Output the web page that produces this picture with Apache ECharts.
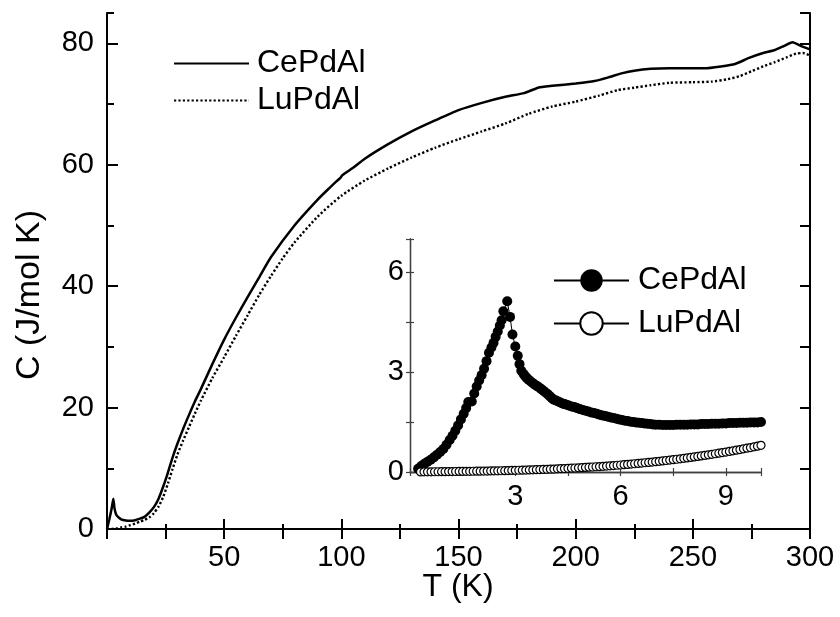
<!DOCTYPE html>
<html>
<head>
<meta charset="utf-8">
<script src="https://cdn.jsdelivr.net/npm/echarts@6/dist/echarts.min.js"></script>
<style>
  html, body { margin: 0; padding: 0; background: #fff; }
  #chart { width: 840px; height: 617px; }
</style>
</head>
<body>
<div id="chart"></div>
<script>
// Specific heat C(T) of CePdAl and its non-magnetic reference LuPdAl.

// Full temperature range, 0-300 K (J/mol K)
const mainCeT = [0, 1, 2, 2.7, 3.2, 4, 5, 6, 8, 10, 12, 14, 16, 18, 20, 22, 24, 26, 28, 30, 32.5, 35, 37.5, 40, 45, 50, 55, 60, 65, 70, 80, 90, 95, 98, 99.5, 100.5, 105, 110, 120, 130, 140, 150, 160, 170, 178, 184, 190, 200, 208, 214, 220, 225, 232, 240, 255, 262, 268, 274, 280, 285, 289, 292.5, 296, 300];
const mainCeC = [0, 1.6, 3.4, 5.0, 3.4, 2.3, 1.9, 1.6, 1.4, 1.35, 1.45, 1.7, 2.0, 2.7, 3.6, 5.0, 7.0, 9.3, 11.8, 14.0, 16.5, 18.8, 21.0, 23.0, 27.2, 31.2, 34.8, 38.2, 41.5, 44.8, 50.0, 54.3, 56.2, 57.3, 57.8, 58.3, 59.5, 61.0, 63.4, 65.5, 67.3, 69.0, 70.2, 71.2, 71.8, 72.7, 73.0, 73.4, 73.8, 74.4, 75.1, 75.5, 75.8, 75.9, 75.9, 76.2, 76.6, 77.6, 78.4, 78.9, 79.6, 80.2, 79.6, 79.0];

const mainLuT = [0, 2, 4, 6, 8, 10, 12, 14, 16, 18, 20, 22, 24, 26, 28, 30, 32.5, 35, 37.5, 40, 45, 50, 55, 60, 65, 70, 75, 80, 90, 100, 110, 120, 130, 140, 150, 160, 170, 180, 190, 200, 210, 218, 225, 232, 240, 250, 258, 265, 270, 275, 280, 285, 290, 294, 297, 300];
const mainLuC = [0, 0.02, 0.1, 0.25, 0.4, 0.65, 0.9, 1.2, 1.5, 1.9, 2.6, 3.7, 5.3, 7.5, 9.9, 12.2, 14.6, 16.8, 19.0, 21.1, 24.9, 28.3, 31.8, 35.2, 38.6, 41.7, 44.6, 47.2, 51.5, 54.9, 57.4, 59.4, 61.2, 62.8, 64.2, 65.5, 66.8, 68.4, 69.6, 70.4, 71.4, 72.3, 72.7, 73.1, 73.5, 73.6, 73.7, 74.1, 74.6, 75.4, 76.2, 76.9, 77.7, 78.3, 78.4, 78.0];

// Low temperature detail, 0-10 K (J/mol K)
const insetCeT = [0.23, 0.32, 0.41, 0.50, 0.59, 0.68, 0.77, 0.86, 0.95, 1.04, 1.13, 1.21, 1.29, 1.37, 1.45, 1.53, 1.60, 1.66, 1.76, 1.83, 1.90, 1.97, 2.04, 2.11, 2.18, 2.25, 2.32, 2.38, 2.44, 2.50, 2.56, 2.61, 2.66, 2.77, 2.85, 2.92, 3.00, 3.07, 3.12, 3.17,
  3.23, 3.28, 3.33, 3.38, 3.44, 3.50, 3.56, 3.62, 3.68, 3.74, 3.80, 3.86, 3.92, 3.98, 4.04, 4.10, 4.16, 4.22, 4.28, 4.34, 4.40, 4.46, 4.52, 4.60, 4.68, 4.76, 4.84, 4.92, 5.00, 5.08, 5.16, 5.24, 5.32, 5.40, 5.48, 5.56, 5.64, 5.72, 5.80, 5.88, 5.96, 6.04, 6.12, 6.20, 6.28, 6.36, 6.44, 6.52, 6.60, 6.68, 6.76, 6.84, 6.92, 7.00, 7.10, 7.20, 7.30, 7.40, 7.50, 7.60, 7.70, 7.80, 7.90, 8.00, 8.10, 8.20, 8.30, 8.40, 8.50, 8.60, 8.70, 8.80, 8.90, 9.00, 9.10, 9.20, 9.30, 9.40, 9.50, 9.60, 9.70, 9.80, 9.90, 10.00];
const insetCeC = [0.10, 0.18, 0.25, 0.31, 0.37, 0.44, 0.52, 0.60, 0.69, 0.82, 0.96, 1.09, 1.24, 1.40, 1.58, 1.75, 1.92, 2.10, 2.12, 2.36, 2.57, 2.75, 2.91, 3.10, 3.33, 3.58, 3.74, 3.88, 4.06, 4.22, 4.40, 4.56, 4.83, 5.13, 4.66, 4.13, 3.77, 3.49, 3.24, 3.04,
  2.95, 2.88, 2.82, 2.77, 2.72, 2.67, 2.62, 2.58, 2.54, 2.49, 2.44, 2.39, 2.34, 2.28, 2.22, 2.17, 2.15, 2.12, 2.09, 2.06, 2.04, 2.02, 2.00, 1.97, 1.95, 1.92, 1.89, 1.86, 1.84, 1.82, 1.79, 1.77, 1.75, 1.72, 1.70, 1.68, 1.66, 1.64, 1.62, 1.60, 1.58, 1.56, 1.54, 1.53, 1.51, 1.50, 1.49, 1.48, 1.47, 1.46, 1.45, 1.44, 1.43, 1.42, 1.42, 1.41, 1.41, 1.41, 1.41, 1.42, 1.42, 1.42, 1.42, 1.43, 1.43, 1.43, 1.44, 1.44, 1.44, 1.45, 1.45, 1.45, 1.46, 1.46, 1.47, 1.47, 1.47, 1.48, 1.48, 1.48, 1.49, 1.49, 1.49, 1.50];

const insetLuT = [0.3, 0.4, 0.5, 0.6, 0.7, 0.8, 0.9, 1.0, 1.1, 1.2, 1.3, 1.4, 1.5, 1.6, 1.7, 1.8, 1.9, 2.0, 2.1, 2.2, 2.3, 2.4, 2.5, 2.6, 2.7, 2.8, 2.9, 3.0, 3.1, 3.2, 3.3, 3.4, 3.5, 3.6, 3.7, 3.8, 3.9, 4.0, 4.1, 4.2, 4.3, 4.4, 4.5, 4.6, 4.7, 4.8, 4.9, 5.0, 5.1, 5.2, 5.3, 5.4, 5.5, 5.6, 5.7, 5.8, 5.9, 6.0, 6.1, 6.2, 6.3, 6.4, 6.5, 6.6, 6.7, 6.8, 6.9, 7.0, 7.1, 7.2, 7.3, 7.4, 7.5, 7.6, 7.7, 7.8, 7.9, 8.0, 8.1, 8.2, 8.3, 8.4, 8.5, 8.6, 8.7, 8.8, 8.9, 9.0, 9.1, 9.2, 9.3, 9.4, 9.5, 9.6, 9.7, 9.8, 9.9, 10.0];
const insetLuC = [0.003, 0.004, 0.005, 0.006, 0.007, 0.008, 0.010, 0.011, 0.012, 0.013, 0.015, 0.016, 0.017, 0.019, 0.020, 0.022, 0.024, 0.026, 0.028, 0.029, 0.032, 0.034, 0.036, 0.038, 0.041, 0.043, 0.046, 0.049, 0.052, 0.055, 0.058, 0.061, 0.065, 0.069, 0.072, 0.076, 0.081, 0.085, 0.089, 0.094, 0.099, 0.104, 0.109, 0.114, 0.120, 0.125, 0.131, 0.138, 0.144, 0.150, 0.157, 0.164, 0.171, 0.179, 0.187, 0.194, 0.203, 0.211, 0.220, 0.229, 0.238, 0.248, 0.257, 0.267, 0.278, 0.288, 0.299, 0.310, 0.322, 0.333, 0.345, 0.358, 0.370, 0.383, 0.397, 0.410, 0.424, 0.438, 0.453, 0.468, 0.483, 0.499, 0.515, 0.531, 0.548, 0.565, 0.583, 0.600, 0.618, 0.637, 0.656, 0.675, 0.695, 0.715, 0.735, 0.756, 0.777, 0.800];

const seriesNames = ['CePdAl', 'LuPdAl'];
const insetSuffix = ' (0-10 K)';
const xTitle = 'T (K)';
const yTitle = 'C (J/mol K)';

const FONT = 'Liberation Sans, Arial, Helvetica, sans-serif';
const INK = '#000';
const FRAME_INSET = '#404040';

function pairs(xs, ys) { return xs.map((x, i) => [x, ys[i]]); }

const labelStyle = { color: INK, fontSize: 29, fontFamily: FONT };

// Ticks point into the plot area: a negative length flips them inward.
function ticks(len, color, width) {
  return { show: true, inside: false, length: -len, lineStyle: { color: color, width: width } };
}

function frameAxis(extra) {
  return Object.assign({
    type: 'value',
    splitLine: { show: false },
    axisLabel: { show: false },
    axisLine: { show: false },
    axisTick: { show: false }
  }, extra);
}

const chart = echarts.init(document.getElementById('chart'), null, { renderer: 'canvas' });

chart.setOption({
  animation: false,
  backgroundColor: '#fff',
  grid: [
    { left: 107, top: 13, width: 703, height: 516 },
    { left: 410, top: 239, width: 351, height: 233 }
  ],
  xAxis: [
    frameAxis({
      gridIndex: 0, position: 'bottom', min: 0, max: 300, interval: 50,
      axisLine: { show: true, lineStyle: { color: INK, width: 2 } },
      axisTick: ticks(10, INK, 2),
      minorTick: { show: true, splitNumber: 2, length: -5, lineStyle: { color: INK, width: 2 } },
      axisLabel: Object.assign({ show: true, margin: 14, showMinLabel: false }, labelStyle)
    }),
    frameAxis({
      gridIndex: 0, position: 'top', min: 0, max: 300, interval: 25,
      axisLine: { show: true, lineStyle: { color: INK, width: 2 } },
      axisTick: ticks(10, INK, 2)
    }),
    frameAxis({
      gridIndex: 1, position: 'bottom', min: 0, max: 10, interval: 3,
      axisLine: { show: true, lineStyle: { color: FRAME_INSET, width: 1.3 } },
      axisLabel: Object.assign({ show: true, margin: 10, showMinLabel: false, showMaxLabel: false }, labelStyle)
    }),
    frameAxis({
      gridIndex: 1, position: 'bottom', min: 0, max: 10, interval: 1.5,
      axisTick: ticks(4, FRAME_INSET, 1.2)
    }),
    frameAxis({
      gridIndex: 1, position: 'top', min: 0, max: 10, interval: 1.5,
      axisLine: { show: true, lineStyle: { color: FRAME_INSET, width: 1.3 } },
      axisTick: ticks(4, FRAME_INSET, 1.2)
    })
  ],
  yAxis: [
    frameAxis({
      gridIndex: 0, position: 'left', min: 0, max: 85, interval: 20,
      axisLine: { show: true, lineStyle: { color: INK, width: 2 } },
      axisTick: ticks(11, INK, 2),
      axisLabel: Object.assign({ show: true, margin: 13, showMaxLabel: false }, labelStyle)
    }),
    frameAxis({
      gridIndex: 0, position: 'left', min: 0, max: 85, interval: 10,
      axisTick: ticks(7, INK, 2)
    }),
    frameAxis({
      gridIndex: 0, position: 'right', min: 0, max: 85, interval: 10,
      axisLine: { show: true, lineStyle: { color: INK, width: 2 } },
      axisTick: ticks(10, INK, 2)
    }),
    frameAxis({
      gridIndex: 1, position: 'left', min: 0, max: 7, interval: 3,
      axisLine: { show: true, lineStyle: { color: FRAME_INSET, width: 1.3 } },
      axisLabel: Object.assign({ show: true, margin: 6, showMaxLabel: false }, labelStyle)
    }),
    frameAxis({
      gridIndex: 1, position: 'left', min: 0, max: 7, interval: 1.5,
      axisTick: ticks(4, FRAME_INSET, 1.2)
    }),
    frameAxis({
      gridIndex: 1, position: 'right', min: 0, max: 7, interval: 1.5,
      axisLine: { show: true, lineStyle: { color: FRAME_INSET, width: 1.3 } },
      axisTick: ticks(4, FRAME_INSET, 1.2)
    })
  ],
  legend: [
    {
      data: seriesNames,
      orient: 'vertical', left: 173, top: 45, padding: 0, itemGap: 0,
      itemWidth: 75, itemHeight: 14,
      itemStyle: { opacity: 0 },
      textStyle: { color: INK, fontSize: 32, fontFamily: FONT, lineHeight: 37, padding: [0, 0, 0, 3] },
      selectedMode: false
    },
    {
      data: seriesNames.map(n => n + insetSuffix),
      formatter: name => name.replace(insetSuffix, ''),
      orient: 'vertical', left: 553, top: 259, padding: 0, itemGap: 0,
      itemWidth: 75, itemHeight: 28,
      textStyle: { color: INK, fontSize: 32, fontFamily: FONT, lineHeight: 43, padding: [0, 0, 0, 4] },
      selectedMode: false
    }
  ],
  series: [
    {
      name: seriesNames[0], type: 'line', xAxisIndex: 0, yAxisIndex: 0,
      data: pairs(mainCeT, mainCeC), symbol: 'none', smooth: 0.2,
      lineStyle: { color: INK, width: 2.5 }, itemStyle: { color: INK }
    },
    {
      name: seriesNames[1], type: 'line', xAxisIndex: 0, yAxisIndex: 0,
      data: pairs(mainLuT, mainLuC), symbol: 'none', smooth: 0.2,
      lineStyle: { color: INK, width: 2.4, type: [2.2, 2.2] }, itemStyle: { color: INK }
    },
    {
      name: seriesNames[0] + insetSuffix, type: 'line', xAxisIndex: 3, yAxisIndex: 3,
      data: pairs(insetCeT, insetCeC), symbol: 'circle', symbolSize: 10,
      showAllSymbol: true, showSymbol: true,
      lineStyle: { color: INK, width: 1 }, itemStyle: { color: INK }
    },
    {
      name: seriesNames[1] + insetSuffix, type: 'line', xAxisIndex: 3, yAxisIndex: 3,
      data: pairs(insetLuT, insetLuC), symbol: 'circle', symbolSize: 8,
      showAllSymbol: true, showSymbol: true,
      lineStyle: { color: INK, width: 1 },
      itemStyle: { color: '#fff', borderColor: INK, borderWidth: 1.2 }
    }
  ],
  graphic: [
    {
      type: 'text', x: 458, y: 587,
      style: { text: xTitle, fill: INK, fontSize: 32, fontFamily: FONT, align: 'center', verticalAlign: 'middle' }
    },
    {
      type: 'text', x: 30, y: 295, rotation: Math.PI / 2,
      style: { text: yTitle, fill: INK, fontSize: 34, fontFamily: FONT, align: 'center', verticalAlign: 'middle' }
    }
  ]
});
</script>
</body>
</html>
